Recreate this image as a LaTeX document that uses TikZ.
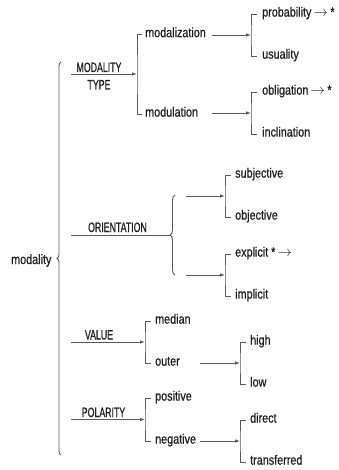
\documentclass[tikz,border=0pt]{standalone}
\usepackage{fontspec}
\setmainfont{Liberation Sans}[FakeStretch=0.8,FakeBold=0.8]
\newfontfamily\capsf{Liberation Sans}[FakeStretch=0.65,FakeBold=0.8]
\usetikzlibrary{arrows.meta,decorations.pathreplacing}
\definecolor{lncol}{HTML}{5A5A5A}
\definecolor{tx}{HTML}{231F20}
\begin{document}
\begin{tikzpicture}[x=1pt,y=-1pt,
  lbl/.style={anchor=mid west,inner sep=0pt,text=tx,font=\fontsize{13.5}{16}\selectfont},
  capslbl/.style={anchor=base,inner sep=0pt,text=tx,font=\fontsize{13.5}{16}\selectfont\capsf},
  lnst/.style={draw=lncol,line width=0.9pt},
  arr/.style={lnst,-{Latex[length=5pt,width=3.6pt]}},
  brc/.style={lnst,decorate,decoration={brace,amplitude=#1}}]
\useasboundingbox (0,0) rectangle (339,470);

% root
\node[anchor=base west,inner sep=0pt,text=tx,font=\fontsize{13.5}{16}\selectfont] (modality) at (11,264) {modality};
\coordinate (mbTop) at (61,62);
\coordinate (mbBot) at (61,455);
\draw[brc=4pt] (mbBot) -- (mbTop);

% ---------- MODALITY TYPE ----------
\node[capslbl] (mt1) at (99,72) {MODALITY};
\node[capslbl] (mt2) at (99,89.3) {TYPE};
\coordinate (s1) at (71,74);
\coordinate (b1) at (137,74);
\draw[arr] (s1) -- (b1);
\node[lbl] (modalization) at (145,34.5) {modalization};
\node[lbl] (modulation) at (145,114) {modulation};
\draw[lnst] ([xshift=-3pt]modalization.mid west) -| (b1) |- ([xshift=-3pt]modulation.mid west);

\coordinate (s2) at (212,35);
\coordinate (b2) at (251,35);
\draw[arr] (s2) -- (b2);
\node[lbl] (probability) at (262,14) {probability\,$\rightarrow$\,*};
\node[lbl] (usuality) at (262,56) {usuality};
\draw[lnst] ([xshift=-5pt]probability.mid west) -| (b2) |- ([xshift=-5pt]usuality.mid west);

\coordinate (s3) at (212,113);
\coordinate (b3) at (251,113);
\draw[arr] (s3) -- (b3);
\node[lbl] (obligation) at (262,92) {obligation\,$\rightarrow$\,*};
\node[lbl] (inclination) at (262,134) {inclination};
\draw[lnst] ([xshift=-5pt]obligation.mid west) -| (b3) |- ([xshift=-5pt]inclination.mid west);

% ---------- ORIENTATION ----------
\node[capslbl] (orientation) at (117.5,232) {ORIENTATION};
\coordinate (s4) at (71,235);
\coordinate (e4) at (170,235);
\draw[lnst] (s4) -- (e4);
\coordinate (obTop) at (175,195);
\coordinate (obBot) at (175,275);
\draw[brc=5pt] (obBot) -- (obTop);

\coordinate (s5) at (186,196);
\coordinate (b5) at (225,196);
\draw[arr] (s5) -- (b5);
\node[lbl] (subjective) at (235,175) {subjective};
\node[lbl] (objective) at (235,217) {objective};
\draw[lnst] ([xshift=-4pt]subjective.mid west) -| (b5) |- ([xshift=-4pt]objective.mid west);

\coordinate (s6) at (186,275);
\coordinate (b6) at (225,275);
\draw[arr] (s6) -- (b6);
\node[lbl] (explicit) at (235,254) {explicit *\,$\rightarrow$};
\node[lbl] (implicit) at (235,296) {implicit};
\draw[lnst] ([xshift=-4pt]explicit.mid west) -| (b6) |- ([xshift=-4pt]implicit.mid west);

% ---------- VALUE ----------
\node[capslbl] (value) at (99,339.5) {VALUE};
\coordinate (s7) at (71,342);
\coordinate (b7) at (145,342);
\draw[arr] (s7) -- (b7);
\node[lbl] (median) at (155,321) {median};
\node[lbl] (outer) at (155,363) {outer};
\draw[lnst] ([xshift=-4pt]median.mid west) -| (b7) |- ([xshift=-4pt]outer.mid west);

\coordinate (s8) at (200,363);
\coordinate (b8) at (240,363);
\draw[arr] (s8) -- (b8);
\node[lbl] (high) at (250,342) {high};
\node[lbl] (low) at (250,384) {low};
\draw[lnst] ([xshift=-4pt]high.mid west) -| (b8) |- ([xshift=-4pt]low.mid west);

% ---------- POLARITY ----------
\node[capslbl] (polarity) at (103.5,417) {POLARITY};
\coordinate (s9) at (71,419.5);
\coordinate (b9) at (145,419.5);
\draw[arr] (s9) -- (b9);
\node[lbl] (positive) at (155,398) {positive};
\node[lbl] (negative) at (155,441) {negative};
\draw[lnst] ([xshift=-4pt]positive.mid west) -| (b9) |- ([xshift=-4pt]negative.mid west);

\coordinate (s10) at (200,441);
\coordinate (b10) at (240,441);
\draw[arr] (s10) -- (b10);
\node[lbl] (direct) at (250,420) {direct};
\node[lbl] (transferred) at (250,462) {transferred};
\draw[lnst] ([xshift=-4pt]direct.mid west) -| (b10) |- ([xshift=-4pt]transferred.mid west);
\end{tikzpicture}
\end{document}
